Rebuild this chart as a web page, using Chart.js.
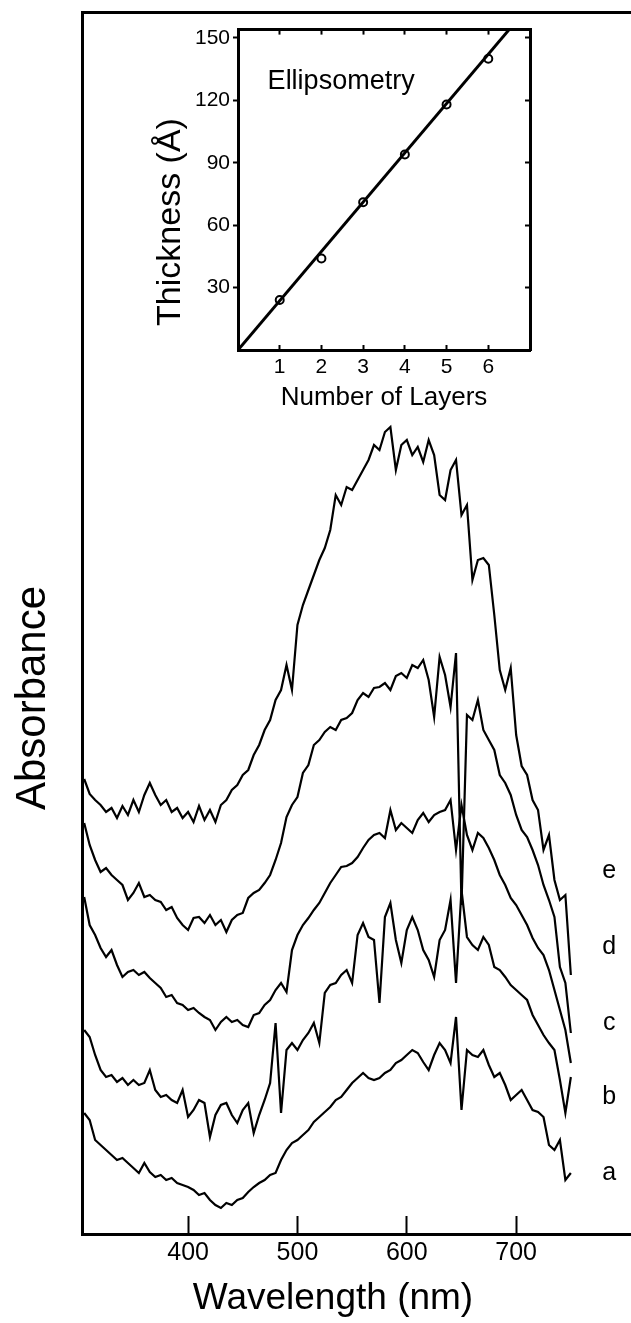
<!DOCTYPE html>
<html>
<head>
<meta charset="utf-8">
<script src="https://cdn.jsdelivr.net/npm/chart.js@4.4.0/dist/chart.umd.min.js"></script>
<style>
  html, body { margin: 0; padding: 0; background: #fff; }
  #wrap { position: relative; width: 631px; height: 1323px; overflow: hidden; }
  #main { position: absolute; left: 0; top: 0; }
  #inset { position: absolute; left: 150px; top: 14px; }
</style>
</head>
<body>
<div id="wrap">
  <canvas id="main" width="631" height="1323"></canvas>
  <canvas id="inset" width="400" height="400"></canvas>
</div>
<script>
// wavelength grid of the spectra (nm)
const wavelengths = [305, 310, 315, 320, 325, 330, 335, 340, 345, 350, 355, 360, 365, 370, 375, 380, 385, 390, 395, 400,
  405, 410, 415, 420, 425, 430, 435, 440, 445, 450, 455, 460, 465, 470, 475, 480, 485, 490, 495, 500,
  505, 510, 515, 520, 525, 530, 535, 540, 545, 550, 555, 560, 565, 570, 575, 580, 585, 590, 595, 600,
  605, 610, 615, 620, 625, 630, 635, 640, 645, 650, 655, 660, 665, 670, 675, 680, 685, 690, 695, 700,
  705, 710, 715, 720, 725, 730, 735, 740, 745, 750];

// absorbance, arbitrary units (traces are offset from each other)
const absE = [455, 440, 434, 429, 422, 426, 416, 428, 419, 434, 422, 439, 451, 439, 429, 434, 422, 426, 416, 422,
  412, 428, 414, 424, 412, 429, 434, 444, 449, 459, 464, 479, 489, 504, 514, 534, 544, 569, 544, 609,
  629, 644, 659, 674, 686, 704, 739, 729, 747, 744, 754, 764, 774, 789, 784, 802, 807, 764, 789, 794,
  779, 787, 772, 794, 779, 739, 734, 764, 774, 719, 729, 654, 674, 676, 669, 619, 564, 544, 566, 499,
  468, 459, 434, 424, 384, 399, 354, 334, 339, 259];
const absD = [411, 389, 374, 362, 366, 359, 354, 349, 334, 341, 351, 337, 339, 334, 332, 324, 327, 316, 309, 304,
  316, 317, 311, 319, 309, 314, 302, 314, 319, 321, 336, 341, 344, 351, 359, 374, 391, 417, 429, 437,
  461, 469, 489, 494, 502, 507, 504, 514, 516, 521, 534, 541, 537, 546, 547, 551, 544, 558, 561, 556,
  569, 566, 574, 554, 517, 577, 559, 527, 581, 329, 519, 514, 534, 504, 494, 484, 459, 451, 439, 419,
  404, 397, 384, 369, 349, 334, 317, 267, 251, 201];
const absC = [337, 309, 299, 286, 277, 284, 269, 257, 262, 264, 259, 262, 256, 251, 246, 237, 239, 231, 229, 224,
  226, 221, 217, 214, 204, 212, 217, 212, 214, 209, 207, 219, 221, 229, 234, 244, 251, 242, 284, 299,
  309, 316, 324, 331, 341, 351, 359, 367, 368, 371, 377, 386, 394, 399, 401, 396, 424, 404, 411, 406,
  401, 414, 421, 412, 419, 422, 424, 434, 384, 429, 399, 384, 401, 396, 386, 374, 359, 349, 336, 329,
  319, 309, 296, 286, 279, 264, 244, 224, 204, 171];
const absB = [204, 197, 179, 164, 157, 159, 152, 156, 149, 154, 149, 151, 164, 144, 137, 139, 134, 131, 144, 117,
  124, 134, 131, 97, 119, 129, 131, 119, 111, 124, 131, 101, 119, 134, 151, 211, 121, 184, 191, 184,
  194, 201, 211, 191, 241, 249, 251, 259, 264, 251, 299, 311, 297, 294, 231, 317, 331, 294, 271, 304,
  317, 304, 284, 274, 257, 294, 304, 334, 251, 344, 297, 289, 284, 297, 289, 267, 264, 257, 249, 244,
  239, 234, 219, 209, 199, 191, 184, 154, 121, 157];
const absA = [121, 114, 94, 89, 84, 79, 74, 76, 71, 66, 61, 71, 62, 57, 59, 54, 56, 51, 49, 47,
  44, 39, 41, 34, 29, 26, 31, 29, 34, 36, 42, 47, 51, 54, 59, 61, 74, 84, 91, 94,
  99, 104, 112, 117, 122, 127, 134, 137, 144, 151, 156, 161, 156, 154, 156, 161, 164, 171, 174, 179,
  184, 181, 172, 164, 179, 191, 184, 171, 217, 124, 184, 179, 177, 184, 169, 157, 161, 149, 134, 139,
  144, 134, 124, 122, 117, 89, 84, 94, 54, 61];

const traceNames = ['e', 'd', 'c', 'b', 'a'];
const traceSeries = [absE, absD, absC, absB, absA];
const labelLevels = [363, 287, 211, 137, 61];   // where the letters sit
const labelWavelength = 785;
const wavelengthTicks = [400, 500, 600, 700];

// inset: ellipsometry thickness vs number of layers
const layers = [1, 2, 3, 4, 5, 6];
const thickness = [24, 44, 71, 94, 118, 140];
const fitLayers = [0, 6.5];
const fitThickness = [0, 154];
const thicknessTicks = [30, 60, 90, 120, 150];

const FONT = '"Liberation Sans", Arial, Helvetica, sans-serif';

function rotatedText(ctx, text, x, y, size) {
    ctx.save();
    ctx.translate(x, y);
    ctx.rotate(-Math.PI / 2);
    ctx.font = size + 'px ' + FONT;
    ctx.fillText(text, 0, 0);
    ctx.restore();
}

const mainText = {
    id: 'mainText',
    afterDraw(chart) {
        const { ctx, scales: { x, y } } = chart;
        ctx.save();
        ctx.fillStyle = '#000';
        ctx.textAlign = 'center';
        ctx.textBaseline = 'middle';
        ctx.font = '25px ' + FONT;
        traceNames.forEach((n, i) => {
            ctx.fillText(n, x.getPixelForValue(labelWavelength), y.getPixelForValue(labelLevels[i]));
        });
        ctx.font = '37px ' + FONT;
        ctx.fillText('Wavelength (nm)', 333, 1299);
        rotatedText(ctx, 'Absorbance', 33, 698, 42);
        ctx.restore();
    }
};

new Chart(document.getElementById('main').getContext('2d'), {
    type: 'line',
    data: {
        datasets: traceSeries.map((s, i) => ({
            label: traceNames[i],
            data: wavelengths.map((w, j) => ({ x: w, y: s[j] })),
            borderColor: '#000',
            borderWidth: 2.2,
            pointRadius: 0,
            tension: 0
        }))
    },
    options: {
        responsive: false,
        animation: false,
        events: [],
        layout: { padding: 0 },
        plugins: { legend: { display: false }, tooltip: { enabled: false } },
        scales: {
            x: {
                type: 'linear', position: 'bottom', min: 303, max: 805,
                afterBuildTicks: s => { s.ticks = wavelengthTicks.map(v => ({ value: v })); },
                afterFit: s => { s.height = 89; },
                grid: { drawOnChartArea: false, drawTicks: true, tickLength: -18, tickWidth: 2, tickColor: '#000' },
                border: { display: true, color: '#000', width: 3 },
                ticks: { color: '#000', font: { family: FONT, size: 25 }, padding: 22, maxRotation: 0 }
            },
            xTop: {
                type: 'linear', position: 'top', min: 303, max: 805,
                afterFit: s => { s.height = 12; },
                grid: { display: false },
                ticks: { display: false },
                border: { display: true, color: '#000', width: 3 }
            },
            y: {
                type: 'linear', position: 'left', min: 0, max: 1222,
                afterFit: s => { s.width = 82; },
                grid: { display: false },
                ticks: { display: false },
                border: { display: true, color: '#000', width: 3 }
            }
        }
    },
    plugins: [mainText]
});

const insetText = {
    id: 'insetText',
    afterDraw(chart) {
        const { ctx, scales: { x, y } } = chart;
        ctx.save();
        ctx.fillStyle = '#000';
        ctx.font = '27px ' + FONT;
        ctx.textAlign = 'left';
        ctx.textBaseline = 'middle';
        ctx.fillText('Ellipsometry', x.getPixelForValue(0.71), y.getPixelForValue(129));
        ctx.textAlign = 'center';
        rotatedText(ctx, 'Thickness (Å)', 21, 208, 34);
        ctx.restore();
    }
};

const insetTickGrid = len => ({ drawOnChartArea: false, drawTicks: true, tickLength: len, tickWidth: 2, tickColor: '#000' });

new Chart(document.getElementById('inset').getContext('2d'), {
    type: 'scatter',
    data: {
        datasets: [
            {
                type: 'line',
                data: fitLayers.map((v, i) => ({ x: v, y: fitThickness[i] })),
                borderColor: '#000',
                borderWidth: 3,
                pointRadius: 0
            },
            {
                data: layers.map((v, i) => ({ x: v, y: thickness[i] })),
                pointRadius: 4,
                pointBorderWidth: 2,
                pointBorderColor: '#000',
                pointBackgroundColor: '#fff'
            }
        ]
    },
    options: {
        responsive: false,
        animation: false,
        events: [],
        layout: { padding: 0 },
        plugins: { legend: { display: false }, tooltip: { enabled: false } },
        scales: {
            x: {
                type: 'linear', position: 'bottom', min: 0, max: 7,
                afterBuildTicks: s => { s.ticks = layers.map(v => ({ value: v })); },
                afterFit: s => { s.height = 64; },
                grid: insetTickGrid(-5),
                border: { display: true, color: '#000', width: 3 },
                ticks: { color: '#000', font: { family: FONT, size: 21 }, padding: 10, maxRotation: 0 },
                title: { display: true, text: 'Number of Layers', color: '#000', font: { family: FONT, size: 26 }, padding: { top: 0, bottom: 1 } }
            },
            x2: {
                type: 'linear', position: 'top', min: 0, max: 7,
                afterBuildTicks: s => { s.ticks = layers.map(v => ({ value: v })); },
                afterFit: s => { s.height = 10; },
                grid: insetTickGrid(-5),
                ticks: { display: false },
                border: { display: true, color: '#000', width: 3 }
            },
            y: {
                type: 'linear', position: 'left', min: 0, max: 154,
                afterBuildTicks: s => { s.ticks = thicknessTicks.map(v => ({ value: v })); },
                afterFit: s => { s.width = 88; },
                grid: insetTickGrid(5),
                border: { display: true, color: '#000', width: 3 },
                ticks: { color: '#000', font: { family: FONT, size: 21 }, padding: 3 }
            },
            y2: {
                type: 'linear', position: 'right', min: 0, max: 154,
                afterBuildTicks: s => { s.ticks = thicknessTicks.map(v => ({ value: v })); },
                afterFit: s => { s.width = 20; },
                grid: insetTickGrid(-5),
                ticks: { display: false },
                border: { display: true, color: '#000', width: 3 }
            }
        }
    },
    plugins: [insetText]
});
</script>
</body>
</html>
